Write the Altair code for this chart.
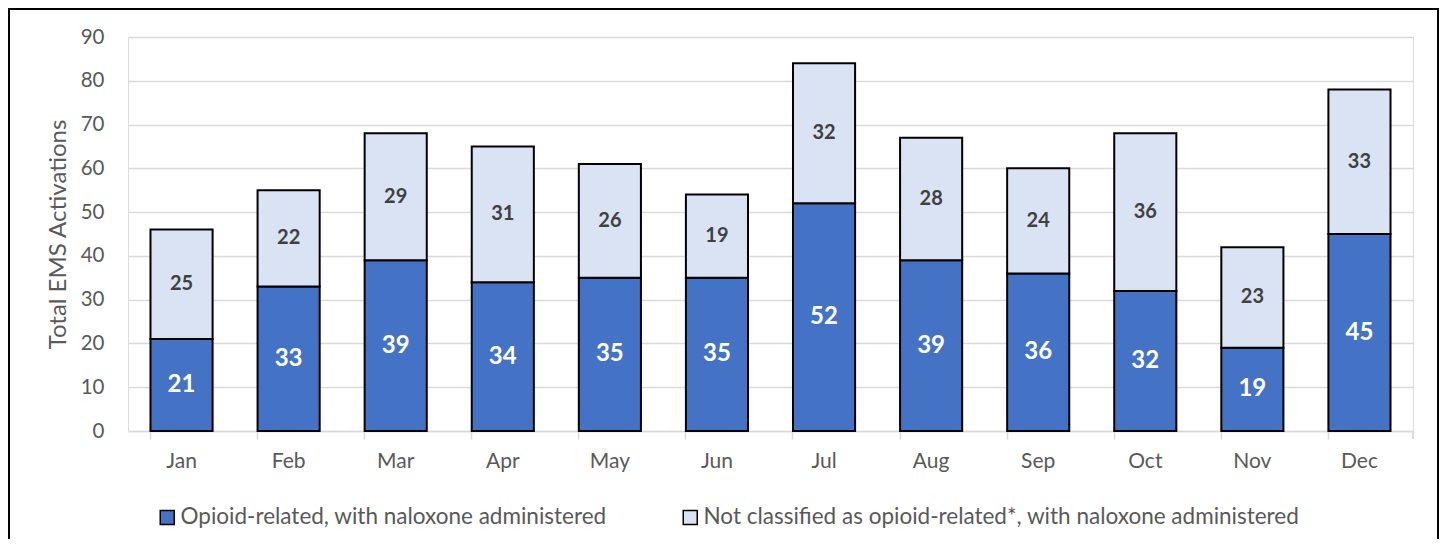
import altair as alt
import pandas as pd

months = ["Jan", "Feb", "Mar", "Apr", "May", "Jun", "Jul", "Aug", "Sep", "Oct", "Nov", "Dec"]
opioid = [21, 33, 39, 34, 35, 35, 52, 39, 36, 32, 19, 45]
not_opioid = [25, 22, 29, 31, 26, 19, 32, 28, 24, 36, 23, 33]
series = ["Opioid-related, with naloxone administered",
          "Not classified as opioid-related*, with naloxone administered"]
colors = ["#4472C4", "#DAE3F3"]

rows = []
for i, m in enumerate(months):
    rows.append({"month": m, "series": series[0], "value": opioid[i], "ord": 0})
    rows.append({"month": m, "series": series[1], "value": not_opioid[i], "ord": 1})
df = pd.DataFrame(rows)

FONT = "Lato"
W, H = 1285, 394

base = alt.Chart(df).transform_stack(
    stack="value", groupby=["month"], sort=[{"field": "ord", "order": "ascending"}], as_=["y0", "y1"]
).transform_calculate(mid="(datum.y0 + datum.y1) / 2")

xenc = alt.X("month:N", sort=months, title=None,
             scale=alt.Scale(paddingInner=0.42, paddingOuter=0.21),
             axis=alt.Axis(labelAngle=0, labelFont=FONT, labelFontSize=21, labelColor="#595959",
                           labelPadding=11, domainColor="#D9D9D9", domainWidth=1.5,
                           tickColor="#D9D9D9", tickSize=8, tickWidth=1.5, bandPosition=0,
                           grid=False))

bars = base.mark_bar(stroke="black", strokeWidth=2).encode(
    x=xenc,
    y=alt.Y("y0:Q", scale=alt.Scale(domain=[0, 90]), title="Total EMS Activations",
            axis=alt.Axis(values=list(range(0, 91, 10)), labelFont=FONT, labelFontSize=20.5,
                          labelColor="#595959", tickSize=0, labelPadding=24, domain=False,
                          gridColor="#D9D9D9", gridWidth=1.5, titleFont=FONT, titleFontSize=24,
                          titleFontWeight="normal", titleColor="#595959", titlePadding=10)),
    y2="y1:Q",
    color=alt.Color("series:N", scale=alt.Scale(domain=series, range=colors),
                    legend=alt.Legend(title=None, orient="none", direction="horizontal",
                                      legendX=28, legendY=469, symbolType="square",
                                      symbolSize=196, symbolStrokeColor="black",
                                      symbolStrokeWidth=1.5, symbolOpacity=1,
                                      labelFont=FONT, labelFontSize=22.5, labelColor="#595959",
                                      labelOffset=2, columnPadding=72, labelLimit=0)),
    order=alt.Order("ord:Q"),
)

labels_low = base.transform_filter(alt.datum.ord == 0).mark_text(
    font=FONT, fontSize=24, fontWeight="bold", color="white", baseline="middle").encode(
    x=alt.X("month:N", sort=months), y="mid:Q", text="value:Q")

labels_high = base.transform_filter(alt.datum.ord == 1).mark_text(
    font=FONT, fontSize=20, fontWeight="bold", color="#404040", baseline="middle").encode(
    x=alt.X("month:N", sort=months), y="mid:Q", text="value:Q")

end_tick = alt.Chart(df).mark_rule(color="#D9D9D9", strokeWidth=1.5).encode(
    x=alt.value(W), y=alt.value(H), y2=alt.value(H + 8))

frame_left = alt.Chart(df).mark_rule(color="black", strokeWidth=2).encode(
    x=alt.value(-119), y=alt.value(-28), y2=alt.value(530))
frame_right = alt.Chart(df).mark_rule(color="black", strokeWidth=2).encode(
    x=alt.value(1310), y=alt.value(-28), y2=alt.value(530))
frame_top = alt.Chart(df).mark_rule(color="black", strokeWidth=2).encode(
    x=alt.value(-120), x2=alt.value(1311), y=alt.value(-28))

chart = alt.layer(bars, labels_low, labels_high, end_tick, frame_left, frame_right, frame_top).properties(
    width=W, height=H,
    autosize=alt.AutoSizeParams(type="none"),
    padding={"left": 120, "top": 29, "right": 27, "bottom": 108},
).configure_view(stroke=None).configure(background="white")

chart.save("out.html", embed_options={"renderer": "svg", "actions": False})
